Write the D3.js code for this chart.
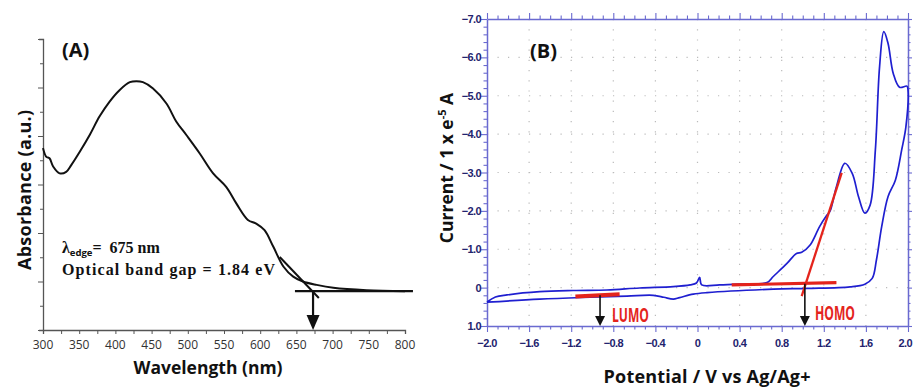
<!DOCTYPE html>
<html>
<head>
<meta charset="utf-8">
<script src="https://cdn.jsdelivr.net/npm/d3@7"></script>
<style>
  html, body { margin: 0; padding: 0; background: #fff; }
  svg { display: block; }
</style>
</head>
<body>
<script>
// ---------- Panel A data (UV-Vis absorbance) ----------
const wavelength = [300, 304.6, 309, 314, 323, 332, 339, 351, 364.5, 378, 392, 406, 420, 429, 438, 452, 470.5, 484, 498, 516.5, 535, 553, 567, 583, 595, 606, 618, 632, 645.6, 659, 678, 701, 747, 800];
const absorbance = [3.75, 3.57, 3.54, 3.37, 3.23, 3.26, 3.40, 3.68, 4.02, 4.40, 4.71, 4.95, 5.11, 5.13, 5.11, 4.98, 4.67, 4.30, 4.02, 3.64, 3.23, 2.95, 2.61, 2.27, 2.19, 2.06, 1.72, 1.31, 1.10, 1.00, 0.93, 0.87, 0.82, 0.80];
const tangentA_x = [627, 681];
const tangentA_y = [1.505, 0.66];
const baselineA_x = [648, 811];
const baselineA_y = [0.80, 0.80];
const edgeWavelength = 673;
const xTicksA = [300, 350, 400, 450, 500, 550, 600, 650, 700, 750, 800];

// ---------- Panel B data (cyclic voltammogram) ----------
const cvForwardV = [-2.0, -1.92, -1.81, -1.50, -1.18, -0.86, -0.55, -0.23, -0.07, -0.01, 0.02, 0.04, 0.21, 0.40, 0.66, 0.72, 0.85, 0.94, 0.99, 1.07, 1.16, 1.23, 1.26, 1.32, 1.40, 1.47, 1.53, 1.59, 1.64, 1.69, 1.73, 1.77, 1.81, 1.86, 1.92, 1.99];
const cvForwardI = [0.375, 0.245, 0.19, 0.106, 0.075, 0.062, 0.01, -0.024, -0.07, -0.12, -0.27, -0.07, -0.07, -0.09, -0.13, -0.29, -0.63, -0.89, -0.92, -1.11, -1.59, -1.89, -2.0, -2.63, -3.24, -2.98, -2.37, -1.94, -2.15, -3.59, -5.76, -6.67, -6.37, -5.58, -5.22, -5.25];
const cvReverseV = [2.0, 1.98, 1.94, 1.88, 1.81, 1.75, 1.70, 1.66, 1.59, 1.45, 1.04, 0.72, 0.09, -0.04, -0.17, -0.23, -0.32, -0.42, -0.67, -1.02, -1.50, -2.0];
const cvReverseI = [-5.15, -4.19, -3.59, -2.80, -2.37, -1.59, -0.72, -0.24, -0.09, -0.02, 0.02, 0.04, 0.13, 0.17, 0.26, 0.30, 0.25, 0.20, 0.22, 0.25, 0.30, 0.38];
const lumoLineV = [-1.16, -0.74];
const lumoLineI = [0.23, 0.17];
const homoBaseV = [0.325, 1.32];
const homoBaseI = [-0.07, -0.13];
const homoTangentV = [0.99, 1.37];
const homoTangentI = [0.22, -2.99];
const lumoOnset = -0.926;
const homoOnset = 1.02;
const xTicksB = [-2.0, -1.6, -1.2, -0.8, -0.4, 0, 0.4, 0.8, 1.2, 1.6, 2.0];
const yTicksB = [-7, -6, -5, -4, -3, -2, -1, 0, 1];

const W = 913, H = 387;
const svg = d3.select("body").append("svg").attr("width", W).attr("height", H);
svg.append("rect").attr("width", W).attr("height", H).attr("fill", "#fff");

const zip = (a, b) => a.map((v, i) => [v, b[i]]);
const sans = "'Open Sans', 'Noto Sans', sans-serif";

// ================= Panel A =================
const xA = d3.scaleLinear().domain([300, 800]).range([43, 405]);
const yA = d3.scaleLinear().domain([0, 6]).range([330, 39]);
const gA = svg.append("g");
const axisGray = "#555";

const xAxisA = gA.append("g").attr("transform", `translate(0,${yA(0)})`)
  .call(d3.axisBottom(xA).tickValues(d3.range(300, 801, 25)).tickSize(4).tickFormat(""));
xAxisA.select(".domain").attr("stroke", axisGray).attr("stroke-width", 1.3);
xAxisA.selectAll(".tick line").attr("stroke", axisGray);
gA.append("g").selectAll("text").data(xTicksA).join("text")
  .attr("x", d => xA(d)).attr("y", yA(0) + 19)
  .attr("text-anchor", "middle")
  .attr("font-family", sans).attr("font-size", 12)
  .attr("fill", "#333").text(d => d);

const yAxisA = gA.append("g").attr("transform", `translate(${xA(300)},0)`)
  .call(d3.axisLeft(yA).tickValues(d3.range(0, 6.01, 0.5)).tickSize(4).tickFormat(""));
yAxisA.select(".domain").attr("stroke", axisGray).attr("stroke-width", 1.3);
yAxisA.selectAll(".tick line").attr("stroke", axisGray)
  .attr("x2", d => (Math.abs(d - Math.round(d)) < 1e-6 ? -5 : -3));

const lineA = d3.line().x(d => xA(d[0])).y(d => yA(d[1])).curve(d3.curveCatmullRom.alpha(0.5));
gA.append("path").datum(zip(wavelength, absorbance))
  .attr("d", lineA).attr("fill", "none").attr("stroke", "#111").attr("stroke-width", 2);

const straightA = d3.line().x(d => xA(d[0])).y(d => yA(d[1]));
gA.append("path").datum(zip(tangentA_x, tangentA_y))
  .attr("d", straightA).attr("stroke", "#111").attr("stroke-width", 2).attr("fill", "none");
gA.append("path").datum(zip(baselineA_x, baselineA_y))
  .attr("d", straightA).attr("stroke", "#111").attr("stroke-width", 2.2).attr("fill", "none");

const axA = xA(edgeWavelength);
gA.append("line").attr("x1", axA).attr("x2", axA).attr("y1", yA(0.8)).attr("y2", yA(0) - 12)
  .attr("stroke", "#111").attr("stroke-width", 2.2);
gA.append("path").attr("d", `M${axA - 6.5},${yA(0) - 15} L${axA + 6.5},${yA(0) - 15} L${axA},${yA(0)} Z`)
  .attr("fill", "#111");

gA.append("text").attr("x", 62).attr("y", 57)
  .attr("font-family", sans).attr("font-weight", "bold").attr("font-size", 20)
  .attr("fill", "#111").text("(A)");
const t1 = gA.append("text").attr("x", 62).attr("y", 253)
  .attr("font-family", "'Liberation Serif', 'DejaVu Serif', serif").attr("font-weight", "bold").attr("font-size", 16)
  .attr("fill", "#111");
t1.append("tspan").text("λ");
t1.append("tspan").attr("font-family", sans).attr("font-size", 9.5).attr("dy", 3).text("edge");
t1.append("tspan").attr("dy", -3).text("=\u00a0\u00a0675 nm");
gA.append("text").attr("x", 62).attr("y", 275)
  .attr("font-family", "'Liberation Serif', 'DejaVu Serif', serif").attr("font-weight", "bold").attr("font-size", 16)
  .attr("textLength", 213).attr("fill", "#111").text("Optical band gap = 1.84 eV");
gA.append("text").attr("x", 208).attr("y", 374).attr("text-anchor", "middle")
  .attr("font-family", sans).attr("font-weight", "bold").attr("font-size", 17.5)
  .attr("fill", "#111").text("Wavelength (nm)");
gA.append("text").attr("transform", "translate(31,190) rotate(-90)").attr("text-anchor", "middle")
  .attr("font-family", sans).attr("font-weight", "bold").attr("font-size", 18)
  .attr("textLength", 160).attr("fill", "#111").text("Absorbance (a.u.)");

// ================= Panel B =================
const xB = d3.scaleLinear().domain([-2, 2]).range([487, 908]);
const yB = d3.scaleLinear().domain([-7, 1]).range([19, 326]);
const gB = svg.append("g");
const axisBlue = "#6a6ad0";
const labelBlue = "#23236e";

gB.append("g").selectAll("line").data(xTicksB.slice(1, -1)).join("line")
  .attr("x1", d => xB(d)).attr("x2", d => xB(d)).attr("y1", yB(-7)).attr("y2", yB(1))
  .attr("stroke", "#bbb").attr("stroke-width", 1.2).attr("stroke-dasharray", "1.2,9");
gB.append("g").selectAll("line").data(yTicksB.slice(1, -1)).join("line")
  .attr("x1", xB(-2)).attr("x2", xB(2)).attr("y1", d => yB(d)).attr("y2", d => yB(d))
  .attr("stroke", "#bbb").attr("stroke-width", 1.2).attr("stroke-dasharray", "1.2,9.3");

const isMajorX = d => Math.abs(d / 0.4 - Math.round(d / 0.4)) < 1e-6;
const isMajorY = d => Math.abs(d - Math.round(d)) < 1e-6;
const minorX = d3.range(-20, 21).map(i => i / 10);
const minorY = d3.range(-35, 6).map(i => i / 5);

function styleAxis(g) {
  g.select(".domain").attr("stroke", axisBlue).attr("stroke-width", 1.5);
  g.selectAll(".tick line").attr("stroke", axisBlue).attr("stroke-width", 1.1);
}
const bx = gB.append("g").attr("transform", `translate(0,${yB(1)})`)
  .call(d3.axisBottom(xB).tickValues(minorX).tickSizeOuter(0).tickFormat(""));
bx.selectAll(".tick line").attr("y2", d => isMajorX(d) ? 6 : 3.5);
styleAxis(bx);
const tx = gB.append("g").attr("transform", `translate(0,${yB(-7)})`)
  .call(d3.axisTop(xB).tickValues(minorX).tickSizeOuter(0).tickFormat(""));
tx.selectAll(".tick line").attr("y2", d => isMajorX(d) ? -6 : -3.5);
styleAxis(tx);
const ly = gB.append("g").attr("transform", `translate(${xB(-2)},0)`)
  .call(d3.axisLeft(yB).tickValues(minorY).tickSizeOuter(0).tickFormat(""));
ly.selectAll(".tick line").attr("x2", d => isMajorY(d) ? -6 : -3.5);
styleAxis(ly);
const ry = gB.append("g").attr("transform", `translate(${xB(2)},0)`)
  .call(d3.axisRight(yB).tickValues(minorY).tickSizeOuter(0).tickFormat(""));
ry.selectAll(".tick line").attr("x2", d => isMajorY(d) ? 4 : 2.5);
styleAxis(ry);

const fmt = d => d === 0 ? "0" : d3.format(".1f")(d);
const tickFont = "'Liberation Sans Narrow', 'Liberation Sans', Arial, sans-serif";
gB.append("g").selectAll("text").data(xTicksB).join("text")
  .attr("x", (d, i) => i === xTicksB.length - 1 ? W - 1 : xB(d)).attr("y", yB(1) + 21)
  .attr("text-anchor", (d, i) => i === xTicksB.length - 1 ? "end" : "middle")
  .attr("font-family", tickFont).attr("font-weight", "bold")
  .attr("font-size", 11).attr("letter-spacing", -0.6).attr("fill", labelBlue).text(fmt);
gB.append("g").selectAll("text").data(yTicksB).join("text")
  .attr("x", xB(-2) - 6).attr("y", d => yB(d) + 4).attr("text-anchor", "end")
  .attr("font-family", tickFont).attr("font-weight", "bold")
  .attr("font-size", 11).attr("letter-spacing", -0.6).attr("fill", labelBlue).text(fmt);

const lineB = d3.line().x(d => xB(d[0])).y(d => yB(d[1])).curve(d3.curveCatmullRom.alpha(0.5));
const cvPts = zip(cvForwardV, cvForwardI).concat(zip(cvReverseV, cvReverseI));
gB.append("path").datum(cvPts).attr("d", lineB)
  .attr("fill", "none").attr("stroke", "#1f1fd0").attr("stroke-width", 1.7);

const straightB = d3.line().x(d => xB(d[0])).y(d => yB(d[1]));
const red = "#e4241c";
gB.append("path").datum(zip(lumoLineV, lumoLineI)).attr("d", straightB)
  .attr("stroke", red).attr("stroke-width", 4).attr("fill", "none");
gB.append("path").datum(zip(homoBaseV, homoBaseI)).attr("d", straightB)
  .attr("stroke", red).attr("stroke-width", 3.2).attr("fill", "none");
gB.append("path").datum(zip(homoTangentV, homoTangentI)).attr("d", straightB)
  .attr("stroke", red).attr("stroke-width", 2.3).attr("fill", "none");

function arrowB(v, iStart) {
  const x = xB(v);
  gB.append("line").attr("x1", x).attr("x2", x).attr("y1", yB(iStart)).attr("y2", yB(1) - 8)
    .attr("stroke", "#111").attr("stroke-width", 1.6);
  gB.append("path").attr("d", `M${x - 5},${yB(1) - 10} L${x + 5},${yB(1) - 10} L${x},${yB(1)} Z`).attr("fill", "#111");
}
arrowB(lumoOnset, 0.2);
arrowB(homoOnset, -0.1);

gB.append("text").attr("x", 612).attr("y", 322)
  .attr("font-family", sans).attr("font-weight", "bold").attr("font-size", 20)
  .attr("textLength", 37).attr("lengthAdjust", "spacingAndGlyphs").attr("fill", red).text("LUMO");
gB.append("text").attr("x", 815).attr("y", 320)
  .attr("font-family", sans).attr("font-weight", "bold").attr("font-size", 20)
  .attr("textLength", 40).attr("lengthAdjust", "spacingAndGlyphs").attr("fill", red).text("HOMO");

gB.append("text").attr("x", 530).attr("y", 58)
  .attr("font-family", sans).attr("font-weight", "bold").attr("font-size", 20)
  .attr("fill", "#111").text("(B)");
gB.append("text").attr("x", 707).attr("y", 383).attr("text-anchor", "middle")
  .attr("font-family", sans).attr("font-weight", "bold").attr("font-size", 18)
  .attr("textLength", 207).attr("fill", "#111").text("Potential / V vs Ag/Ag+");
const yt = gB.append("text").attr("transform", "translate(453,168) rotate(-90)").attr("text-anchor", "middle")
  .attr("font-family", sans).attr("font-weight", "bold").attr("font-size", 17.5)
  .attr("fill", "#111");
yt.append("tspan").text("Current / 1 x e");
yt.append("tspan").attr("font-size", 11).attr("dy", -7).text("-5");
yt.append("tspan").attr("dy", 7).text(" A");
</script>
</body>
</html>
